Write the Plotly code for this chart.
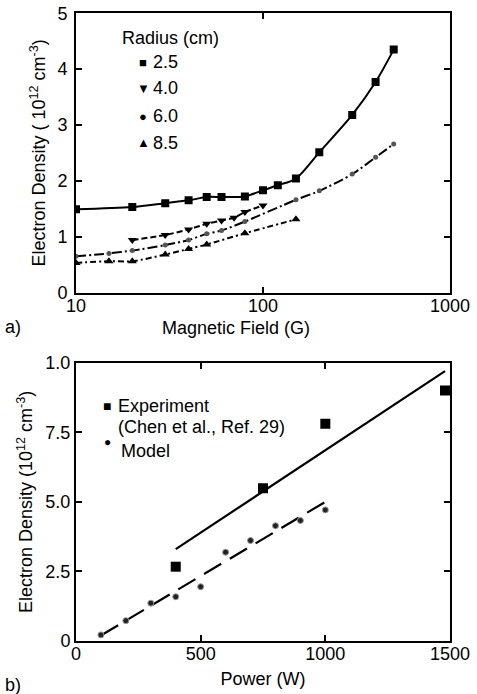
import plotly.graph_objects as go

# ---- Panel a) data ----
field_25 = [10, 20, 30, 40, 50, 60, 80, 100, 120, 150, 200, 300, 400, 500]
dens_25 = [1.49, 1.53, 1.60, 1.65, 1.71, 1.71, 1.72, 1.83, 1.92, 2.04, 2.51, 3.18, 3.77, 4.35]
field_40 = [20, 30, 40, 50, 60, 70, 80, 100]
dens_40 = [0.94, 1.03, 1.13, 1.23, 1.29, 1.34, 1.44, 1.56]
field_60 = [10, 15, 20, 30, 40, 50, 60, 80, 150, 200, 300, 400, 500]
dens_60 = [0.65, 0.70, 0.75, 0.85, 0.94, 1.05, 1.11, 1.27, 1.66, 1.82, 2.12, 2.42, 2.66]
field_85 = [10, 15, 20, 30, 40, 50, 80, 150]
dens_85 = [0.53, 0.56, 0.56, 0.68, 0.78, 0.86, 1.06, 1.31]

# ---- Panel b) data ----
power_exp = [400, 750, 1000, 1480]
dens_exp = [2.67, 5.49, 7.81, 9.0]
power_model = [100, 200, 300, 400, 500, 600, 700, 800, 900, 1000]
dens_model = [0.22, 0.73, 1.36, 1.59, 1.95, 3.19, 3.61, 4.14, 4.33, 4.71]
fit_exp_x = [400, 1480]
fit_exp_y = [3.3, 9.7]
fit_model_x = [100, 1000]
fit_model_y = [0.2, 5.0]

b_ticks = [0, 2.5, 5.0, 7.5, 10]
b_ticktext = ["0", "2.5", "5.0", "7.5", "1.0"]

FONT = "Liberation Sans, Arial, sans-serif"
FS = 18
BLACK = "black"

fig = go.Figure()

def series(x, y, symbol, size, dash, color=BLACK, shape="spline", xa="x", ya="y"):
    fig.add_trace(go.Scatter(
        x=x, y=y, mode="lines+markers", xaxis=xa, yaxis=ya,
        line=dict(color=BLACK, width=2, dash=dash, shape=shape, smoothing=0.8),
        marker=dict(symbol=symbol, size=size, color=color),
        showlegend=False))

series(field_25, dens_25, "square", 8, "solid")
series(field_40, dens_40, "triangle-down", 8, "6px,3px")
series(field_60, dens_60, "circle", 5, "10px,3px,2px,3px", color="#555")
series(field_85, dens_85, "triangle-up", 8, "6px,3px,2px,3px")

# panel b
fig.add_trace(go.Scatter(x=fit_exp_x, y=fit_exp_y, mode="lines", xaxis="x2", yaxis="y2",
                         line=dict(color=BLACK, width=2.2), showlegend=False))
fig.add_trace(go.Scatter(x=fit_model_x, y=fit_model_y, mode="lines", xaxis="x2", yaxis="y2",
                         line=dict(color=BLACK, width=2.2, dash="20px,10px"), showlegend=False))
fig.add_trace(go.Scatter(x=power_exp, y=dens_exp, mode="markers", xaxis="x2", yaxis="y2",
                         marker=dict(symbol="square", size=10, color=BLACK), showlegend=False))
fig.add_trace(go.Scatter(x=power_model, y=dens_model, mode="markers", xaxis="x2", yaxis="y2",
                         marker=dict(symbol="circle", size=6, color="#222",
                                     line=dict(color="#999", width=1)), showlegend=False))

W, H = 477, 694
def px(x):
    return x / W
def py(y):
    return 1 - y / H

xd = [px(76), px(450)]
axis_common = dict(showline=True, linecolor=BLACK, linewidth=2, mirror="ticks",
                   ticks="inside", ticklen=6, tickwidth=1.5, tickcolor=BLACK,
                   showgrid=False, zeroline=False, automargin=False,
                   tickfont=dict(family=FONT, size=FS, color=BLACK),
                   title_font=dict(family=FONT, size=FS, color=BLACK))

fig.update_layout(
    width=W, height=H, margin=dict(l=0, r=0, t=0, b=0),
    paper_bgcolor="white", plot_bgcolor="white",
    font=dict(family=FONT, size=FS, color=BLACK),
    xaxis=dict(axis_common, type="log", range=[1, 3], domain=xd, anchor="y",
               tickvals=[10, 100, 1000], ticktext=["10", "100", "1000"],
               ticklabelstandoff=-4),
    yaxis=dict(axis_common, range=[0, 5], domain=[py(292.5), py(13.3)], anchor="x",
               tickvals=[0, 1, 2, 3, 4, 5], ticklabelstandoff=3,
               title=dict(text="Electron Density ( 10<sup>12</sup> cm<sup>-3</sup>)", standoff=7)),
    xaxis2=dict(axis_common, range=[0, 1500], domain=xd, anchor="y2",
                tickvals=[0, 500, 1000, 1500], ticklabelstandoff=-5,
                title=dict(text="Power (W)", standoff=10)),
    yaxis2=dict(axis_common, range=[0, 10], domain=[py(641), py(362.7)], anchor="x2",
                tickvals=b_ticks, ticktext=b_ticktext,
                title=dict(text="Electron Density (10<sup>12</sup> cm<sup>-3</sup>)", standoff=8)),
)

def note(text, x, y, size=FS, xanchor="left"):
    fig.add_annotation(text=text, x=px(x), y=py(y), xref="paper", yref="paper",
                       xanchor=xanchor, yanchor="middle", showarrow=False,
                       font=dict(family=FONT, size=size, color=BLACK))

# x title of panel a (placed left of centre, as in the original)
note("Magnetic Field (G)", 236, 328, xanchor="center")

# legend a)
note("Radius (cm)", 120, 38)
legend_a = [("■", "2.5", 62), ("▼", "4.0", 88), ("●", "6.0", 116), ("▲", "8.5", 143)]
for sym, lab, yy in legend_a:
    note(sym, 143, yy, size=13, xanchor="center")
    note(lab, 151, yy)

# legend b)
note("■", 107, 406, size=14, xanchor="center")
note("Experiment", 116, 406)
note("(Chen et al., Ref. 29)", 116, 427)
note("●", 107, 442, size=12, xanchor="center")
note("Model", 119, 451)

note("a)", 3, 327)
note("b)", 3, 685)

fig.write_html("out.html")
